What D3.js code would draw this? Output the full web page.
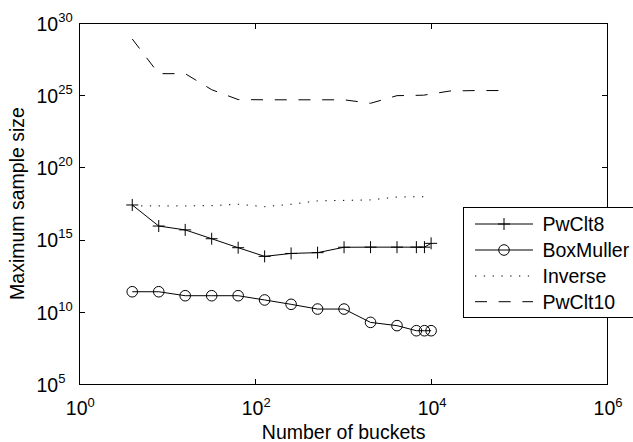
<!DOCTYPE html>
<html>
<head>
<meta charset="utf-8">
<script src="https://cdn.jsdelivr.net/npm/d3@7"></script>
<style>
  body { margin: 0; background: #fff; }
  svg { display: block; }
  text { font-family: "Liberation Sans", Arial, Helvetica, sans-serif; fill: #000; }
</style>
</head>
<body>
<div id="chart"></div>
<script>
// buckets (x) for each series
const bucketsMarked = [4, 8, 16, 32, 64, 128, 256, 512, 1024, 2048, 4096, 6800, 8400, 10000];
const bucketsInverse = [4, 8, 16, 32, 64, 128, 256, 512, 1024, 2048, 4096, 8192];
const bucketsPwClt10 = [4, 8, 16, 32, 64, 128, 256, 512, 1024, 2048, 4096, 8192, 16384, 32768, 65536];

// maximum sample size
const pwClt8 = [2.5e17, 8.7e15, 4.7e15, 1.15e15, 2.75e14, 6.9e13, 1.1e14, 1.25e14, 2.95e14, 3e14, 3e14, 3e14, 3e14, 5.5e14];
const boxMuller = [2.45e11, 2.45e11, 1.3e11, 1.3e11, 1.3e11, 6.6e10, 3.3e10, 1.55e10, 1.55e10, 1.85e9, 1.1e9, 4.9e8, 4.9e8, 4.9e8];
const inverse = [2.15e17, 2.15e17, 2.15e17, 2.25e17, 2.8e17, 1.9e17, 2.8e17, 4.8e17, 5.2e17, 5.6e17, 8.9e17, 9.3e17];
const pwClt10 = [7.8e28, 3.1e26, 3.1e26, 2.4e25, 5e24, 4.8e24, 4.8e24, 4.8e24, 4.8e24, 2.75e24, 9.3e24, 1e25, 1.95e25, 2.1e25, 2.1e25];

const xTicks = [1e0, 1e2, 1e4, 1e6];
const xTickExp = ["0", "2", "4", "6"];
const yTicks = [1e5, 1e10, 1e15, 1e20, 1e25, 1e30];
const yTickExp = ["5", "10", "15", "20", "25", "30"];

const legendNames = ["PwClt8", "BoxMuller", "Inverse", "PwClt10"];

const width = 633;
const height = 442;
const plotLeft = 79.3, plotRight = 607, plotTop = 23, plotBottom = 384;

const svg = d3.select("#chart")
  .append("svg")
  .attr("width", width)
  .attr("height", height);

const x = d3.scaleLog().domain([1, 1e6]).range([plotLeft, plotRight]);
const y = d3.scaleLog().domain([1e5, 1e30]).range([plotBottom, plotTop]);

// axes box, ticks pointing inward
const tick = 5.5;
svg.append("g").attr("transform", `translate(0,${plotBottom})`)
  .call(d3.axisBottom(x).tickValues(xTicks).tickSize(-tick).tickSizeOuter(0).tickFormat(""));
svg.append("g").attr("transform", `translate(0,${plotTop})`)
  .call(d3.axisTop(x).tickValues(xTicks).tickSize(-tick).tickSizeOuter(0).tickFormat(""));
svg.append("g").attr("transform", `translate(${plotLeft},0)`)
  .call(d3.axisLeft(y).tickValues(yTicks).tickSize(-tick).tickSizeOuter(0).tickFormat(""));
svg.append("g").attr("transform", `translate(${plotRight},0)`)
  .call(d3.axisRight(y).tickValues(yTicks).tickSize(-tick).tickSizeOuter(0).tickFormat(""));

svg.selectAll(".domain, .tick line")
  .attr("stroke", "#000")
  .attr("stroke-width", 1)
  .attr("shape-rendering", "crispEdges");

// tick labels 10^n
xTicks.forEach((v, i) => {
  const t = svg.append("text")
    .attr("x", x(v) + 1)
    .attr("y", 415)
    .attr("text-anchor", "middle")
    .style("font-size", "19.5px");
  t.append("tspan").text("10");
  t.append("tspan").attr("dy", -8).style("font-size", "13px").text(xTickExp[i]);
});

yTicks.forEach((v, i) => {
  const t = svg.append("text")
    .attr("x", 36.5)
    .attr("y", y(v) + 7.7)
    .style("font-size", "19.5px");
  t.append("tspan").text("10");
  t.append("tspan").attr("dy", -9).style("font-size", "13px").text(yTickExp[i]);
});

svg.append("text")
  .attr("x", (plotLeft + plotRight) / 2 + 0.5)
  .attr("y", 439)
  .attr("text-anchor", "middle")
  .style("font-size", "19.5px")
  .text("Number of buckets");

svg.append("text")
  .attr("transform", `translate(24,${(plotTop + plotBottom) / 2}) rotate(-90)`)
  .attr("text-anchor", "middle")
  .style("font-size", "19.5px")
  .text("Maximum sample size");

// series
const line = d3.line().x(d => x(d[0])).y(d => y(d[1]));

const series = [
  { xs: bucketsMarked, ys: pwClt8, dash: null, marker: "plus" },
  { xs: bucketsMarked, ys: boxMuller, dash: null, marker: "circle" },
  { xs: bucketsInverse, ys: inverse, dash: "1.3,7.5", marker: null },
  { xs: bucketsPwClt10, ys: pwClt10, dash: "12,11.7", marker: null }
];

function drawMarker(g, kind, cx, cy) {
  if (kind === "plus") {
    g.append("path")
      .attr("d", `M${cx - 6},${cy}H${cx + 6}M${cx},${cy - 6}V${cy + 6}`)
      .attr("stroke", "#000").attr("stroke-width", 1).attr("fill", "none");
  } else if (kind === "circle") {
    g.append("circle")
      .attr("cx", cx).attr("cy", cy).attr("r", 5.3)
      .attr("stroke", "#000").attr("stroke-width", 1).attr("fill", "none");
  }
}

series.forEach(s => {
  const pts = s.xs.map((v, i) => [v, s.ys[i]]);
  svg.append("path")
    .datum(pts)
    .attr("d", line)
    .attr("fill", "none")
    .attr("stroke", "#000")
    .attr("stroke-width", 1)
    .attr("stroke-dasharray", s.dash);
  if (s.marker) {
    const g = svg.append("g");
    pts.forEach(p => drawMarker(g, s.marker, x(p[0]), y(p[1])));
  }
});

// legend
const lg = svg.append("g");
lg.append("rect")
  .attr("x", 463.5).attr("y", 207.5)
  .attr("width", 200).attr("height", 110)
  .attr("fill", "#fff").attr("stroke", "#000").attr("stroke-width", 1);

const legendY = [224, 250, 276, 301.7];
legendNames.forEach((name, i) => {
  const s = series[i];
  const ly = legendY[i];
  lg.append("line")
    .attr("x1", 475).attr("x2", 533)
    .attr("y1", ly).attr("y2", ly)
    .attr("stroke", "#000").attr("stroke-width", 1)
    .attr("stroke-dasharray", s.dash);
  if (s.marker) drawMarker(lg, s.marker, 504, ly);
  lg.append("text")
    .attr("x", 542.5).attr("y", ly + 7)
    .style("font-size", "19.5px")
    .text(name);
});
</script>
</body>
</html>
